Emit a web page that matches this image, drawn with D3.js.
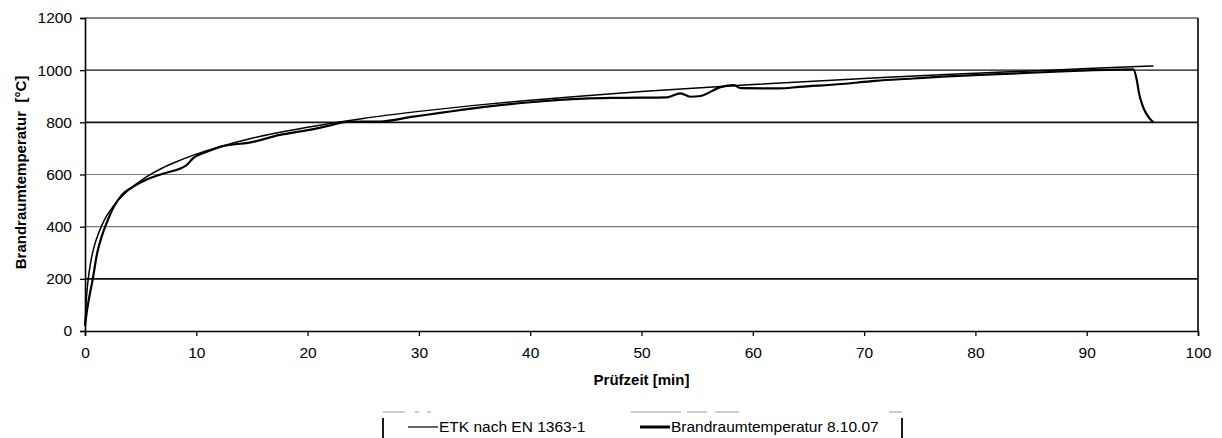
<!DOCTYPE html>
<html>
<head>
<meta charset="utf-8">
<script src="https://cdn.jsdelivr.net/npm/d3@7"></script>
<style>
  body { margin: 0; background: #fff; }
  svg { font-family: "Liberation Sans", Arial, sans-serif; }
</style>
</head>
<body>
<svg id="chart"></svg>
<script>
// ETK nach EN 1363-1
var etkTime = [0, 0.1, 0.2, 0.3, 0.5, 0.75, 1, 1.5, 2, 2.5, 3, 4, 5, 6, 7, 8, 10, 12, 15, 20, 25, 30, 35, 40, 45, 50, 55, 60, 65, 70, 75, 80, 85, 90, 96];
var etkTemp = [20, 108, 163, 203, 261, 312, 349, 404, 445, 476, 502, 544, 576, 603, 626, 645, 678, 705, 739, 781, 815, 842, 865, 885, 902, 918, 932, 945, 957, 968, 979, 988, 997, 1006, 1016];

// Brandraumtemperatur 8.10.07
var measTime = [0, 0.15, 0.3, 0.7, 1.1, 1.5, 2.0, 2.6, 3.3, 4.2, 5.5, 7.0, 9.1, 9.7, 11, 12.4, 13.5, 14.5, 17.5, 20, 22, 23.5, 26.5, 29.5, 31.9, 34, 37.3, 40, 44.8, 48, 52.3, 53.5, 54.4, 55.3, 57.1, 58.3, 58.9, 62.4, 64.2, 68, 71, 74.4, 77, 80.4, 85, 89.4, 94.2, 94.5, 94.7, 95.0, 95.4, 96.0];
var measTemp = [20, 70, 110, 200, 300, 362, 420, 477, 521, 550, 580, 603, 635, 662, 688, 709, 716, 720, 752, 770, 788, 802, 803, 822, 836, 849, 866, 877, 891, 894, 896, 911, 898, 901, 935, 943, 931, 930, 936, 947, 959, 968, 975, 982, 990, 998, 1003, 962, 912, 866, 830, 799];

var xTicks = [0, 10, 20, 30, 40, 50, 60, 70, 80, 90, 100];
var yTicks = [0, 200, 400, 600, 800, 1000, 1200];
var seriesNames = ["ETK nach EN 1363-1", "Brandraumtemperatur 8.10.07"];

var W = 1222, H = 438;
var margin = {top: 18, right: 24, bottom: 107, left: 85};
var width = W - margin.left - margin.right;
var height = H - margin.top - margin.bottom;

var svg = d3.select("#chart").attr("width", W).attr("height", H);
var g = svg.append("g")
    .attr("transform", "translate(" + margin.left + "," + margin.top + ")");

var x = d3.scaleLinear().domain([0, 100]).range([0, width]);
var y = d3.scaleLinear().domain([0, 1200]).range([height, 0]);

// gridlines (scan shows some darker, some lighter)
g.append("g")
    .selectAll("line")
    .data(yTicks.filter(function(d) { return d > 0; }))
    .enter().append("line")
    .attr("x1", 0)
    .attr("x2", width)
    .attr("y1", function(d) { return y(d); })
    .attr("y2", function(d) { return y(d); })
    .attr("stroke", function(d) { return (d == 400 || d == 600) ? "#777" : "#111"; })
    .attr("stroke-width", function(d) { return (d == 800 || d == 200) ? 1.6 : 1.2; });

// right frame
g.append("line")
    .attr("x1", width).attr("x2", width)
    .attr("y1", 0).attr("y2", height)
    .attr("stroke", "#000").attr("stroke-width", 1.6);

// axes
var xAxis = g.append("g")
    .attr("transform", "translate(0," + height + ")")
    .call(d3.axisBottom(x).tickValues(xTicks).tickSize(5).tickPadding(11));
var yAxis = g.append("g")
    .call(d3.axisLeft(y).tickValues(yTicks).tickFormat(d3.format("d")).tickSize(5).tickPadding(8));

[xAxis, yAxis].forEach(function(a) {
    a.select(".domain").attr("stroke", "#000").attr("stroke-width", 1.6);
    a.selectAll(".tick line").attr("stroke", "#000").attr("stroke-width", 1.3);
    a.selectAll("text")
        .attr("fill", "#000")
        .style("font-size", "15.5px")
        .style("font-family", "'Liberation Sans', Arial, sans-serif");
});

// curves
var etkData = etkTime.map(function(t, i) { return {t: t, v: etkTemp[i]}; });
var measData = measTime.map(function(t, i) { return {t: t, v: measTemp[i]}; });

var line = d3.line()
    .x(function(d) { return x(d.t); })
    .y(function(d) { return y(d.v); });

g.append("path")
    .datum(etkData)
    .attr("fill", "none")
    .attr("stroke", "#000")
    .attr("stroke-width", 1.5)
    .attr("d", line.curve(d3.curveMonotoneX));

g.append("path")
    .datum(measData)
    .attr("fill", "none")
    .attr("stroke", "#000")
    .attr("stroke-width", 2.2)
    .attr("d", line.curve(d3.curveMonotoneX));

// axis titles
svg.append("text")
    .attr("x", margin.left + x(50))
    .attr("y", 385)
    .attr("text-anchor", "middle")
    .attr("font-weight", "bold")
    .attr("font-size", 15)
    .text("Prüfzeit [min]");

svg.append("text")
    .attr("transform", "translate(26," + (margin.top + y(600) - 2) + ")rotate(-90)")
    .attr("text-anchor", "middle")
    .attr("font-weight", "bold")
    .attr("font-size", 15)
    .attr("xml:space", "preserve")
    .text("Brandraumtemperatur  [°C]");

// legend
var legend = svg.append("g");
legend.append("line")
    .attr("x1", 383).attr("x2", 902).attr("y1", 412).attr("y2", 412)
    .attr("stroke", "#999").attr("stroke-width", 1)
    .attr("stroke-dasharray", "22,10,4,8,4,200,50,6,20,8,24,150");
[383, 902].forEach(function(lx) {
    legend.append("line")
        .attr("x1", lx).attr("x2", lx).attr("y1", 418).attr("y2", 438)
        .attr("stroke", "#000").attr("stroke-width", 1.8);
});

var legendItems = [
    {x: 408, w: 1.2, name: seriesNames[0]},
    {x: 640, w: 3, name: seriesNames[1]}
];
legendItems.forEach(function(d) {
    legend.append("line")
        .attr("x1", d.x).attr("x2", d.x + 30)
        .attr("y1", 427).attr("y2", 427)
        .attr("stroke", "#000").attr("stroke-width", d.w);
    legend.append("text")
        .attr("x", d.x + 31)
        .attr("y", 432)
        .attr("font-size", 15.5)
        .attr("fill", "#000")
        .text(d.name);
});
</script>
</body>
</html>
